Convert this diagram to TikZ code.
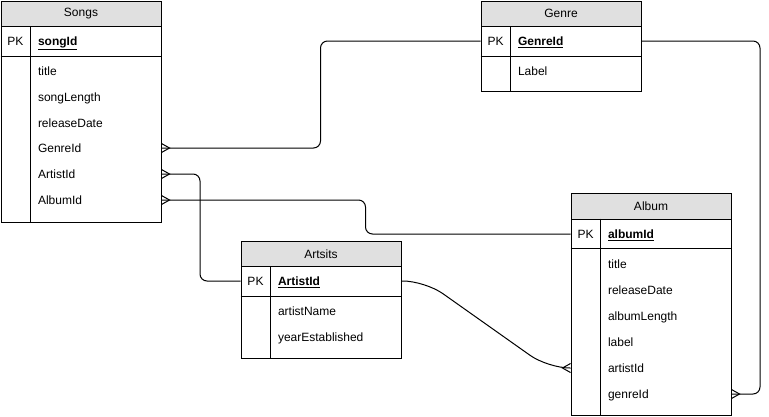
\documentclass[tikz,border=0pt]{standalone}
\usepackage{fontspec}
\setmainfont{Liberation Sans}
\usetikzlibrary{arrows.meta}
\definecolor{hdrgray}{HTML}{E0E0E0}
\pgfdeclarearrow{
  name = Crow,
  setup code = {
    \pgfarrowssettipend{0pt}
    \pgfarrowssetlineend{0pt}
    \pgfarrowssetbackend{-8pt}
    \pgfarrowshullpoint{0pt}{4.5pt}
    \pgfarrowshullpoint{0pt}{-4.5pt}
    \pgfarrowshullpoint{-8pt}{0pt}
  },
  drawing code = {
    \pgfsetdash{}{0pt}
    \pgfpathmoveto{\pgfqpoint{0pt}{4.5pt}}
    \pgfpathlineto{\pgfqpoint{-8pt}{0pt}}
    \pgfpathlineto{\pgfqpoint{0pt}{-4.5pt}}
    \pgfusepathqstroke
  }
}
\begin{document}
\begin{tikzpicture}[x=1pt,y=-1pt,line width=1pt,
  every node/.style={font=\fontsize{12}{14}\selectfont},
  tbl/.style={draw,anchor=north west,inner sep=0pt,minimum width=160pt},
  hdr/.style={draw,fill=hdrgray,anchor=north west,inner sep=0pt,minimum width=160pt,minimum height=25.5pt},
  fld/.style={anchor=west,inner sep=0pt,text height=10pt,text depth=1.4pt},
  pkl/.style={anchor=center,inner sep=0pt,text height=10pt,text depth=1.4pt},
  link/.style={draw,line width=1pt,rounded corners=7pt},
  curvelink/.style={draw,line width=1pt,rounded corners=22pt}
]
\useasboundingbox (0,0) rectangle (769,416);

% ---------- Songs ----------
\node[tbl,minimum height=221.5pt] (songs) at (0.5,0.5) {};
\node[hdr] (songsH) at (0.5,0.5) {Songs};
\draw (0.5,56) -- (160.5,56);
\draw (30.5,26) -- (30.5,222);
\node[pkl] (songsPK) at (15.5,41) {PK};
\node[fld] (sId) at (37.5,41) {\underline{\textbf{songId}}};
\node[fld] (sTitle) at (37.5,71) {title};
\node[fld] (sLen) at (37.5,97) {songLength};
\node[fld] (sRel) at (37.5,123) {releaseDate};
\node[fld] (sGenre) at (37.5,148) {GenreId};
\node[fld] (sArtist) at (37.5,174) {ArtistId};
\node[fld] (sAlbum) at (37.5,200) {AlbumId};

% ---------- Genre ----------
\node[tbl,minimum height=90.5pt] (genre) at (480.5,0.5) {};
\node[hdr] (genreH) at (480.5,0.5) {Genre};
\draw (480.5,56.5) -- (640.5,56.5);
\draw (510.5,26) -- (510.5,91);
\node[pkl] (genrePK) at (495.5,41) {PK};
\node[fld] (gId) at (517.5,41) {\underline{\textbf{GenreId}}};
\node[fld] (gLabel) at (517.5,71) {Label};

% ---------- Artsits ----------
\node[tbl,minimum height=117pt] (art) at (240.5,240.5) {};
\node[hdr] (artH) at (240.5,240.5) {Artsits};
\draw (240.5,296) -- (400.5,296);
\draw (270.5,266) -- (270.5,357.5);
\node[pkl] (artPK) at (255.5,281) {PK};
\node[fld] (aId) at (277.5,281) {\underline{\textbf{ArtistId}}};
\node[fld] (aName) at (277.5,311) {artistName};
\node[fld] (aYear) at (277.5,337) {yearEstablished};

% ---------- Album ----------
\node[tbl,minimum height=222pt] (album) at (570.5,193) {};
\node[hdr] (albumH) at (570.5,193) {Album};
\draw (570.5,248.5) -- (730.5,248.5);
\draw (600.5,218.5) -- (600.5,415);
\node[pkl] (albumPK) at (585.5,234) {PK};
\node[fld] (bId) at (607.5,234) {\underline{\textbf{albumId}}};
\node[fld] (bTitle) at (607.5,264) {title};
\node[fld] (bRel) at (607.5,290) {releaseDate};
\node[fld] (bLen) at (607.5,316) {albumLength};
\node[fld] (bLabel) at (607.5,342) {label};
\node[fld] (bArtist) at (607.5,368) {artistId};
\node[fld] (bGenre) at (607.5,394) {genreId};

% ---------- connectors ----------
\coordinate (c1) at (320.5,0);
\coordinate (c2) at (200,0);
\coordinate (c3) at (365.5,0);
\coordinate (c4) at (760,0);
\path[link,{Crow}-] (songs.east |- sGenre) -- (c1 |- sGenre) -- (c1 |- gId) -- (genre.west |- gId);
\path[link,{Crow}-] (songs.east |- sArtist) -- (c2 |- sArtist) -- (c2 |- aId) -- (art.west |- aId);
\path[link,{Crow}-] (songs.east |- sAlbum) -- (c3 |- sAlbum) -- (c3 |- bId) -- (album.west |- bId);
\path[link,-{Crow}] (genre.east |- gId) -- (c4 |- gId) -- (c4 |- bGenre) -- (album.east |- bGenre);
\coordinate (k1) at (425,0);
\coordinate (k2) at (548,0);
\path[curvelink,-{Crow}] (art.east |- aId) -- (k1 |- aId) -- (k2 |- bArtist) -- (album.west |- bArtist);
\end{tikzpicture}
\end{document}
